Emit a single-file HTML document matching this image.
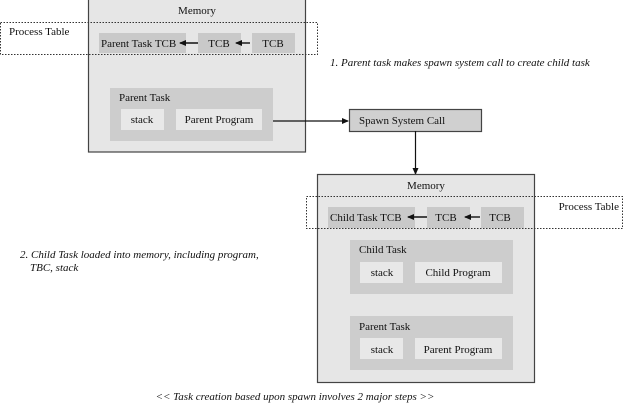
<!DOCTYPE html>
<html><head><meta charset="utf-8"><style>
html,body{margin:0;padding:0;background:#fff;width:623px;height:403px;overflow:hidden}
svg text{font-family:"Liberation Serif",serif;font-size:11px;fill:#111}
.i{font-style:italic}
</style></head><body>
<svg width="623" height="403" viewBox="0 0 623 403" xmlns="http://www.w3.org/2000/svg">
<defs><marker id="a" markerUnits="userSpaceOnUse" markerWidth="7" markerHeight="7" refX="6" refY="3.5" orient="auto"><path d="M0,0.5 L7,3.5 L0,6.5 z" fill="#111"/></marker></defs>
<rect x="88.5" y="-1" width="217" height="153" fill="#e6e6e6" stroke="#444" stroke-width="1.2"/>
<text x="197" y="14" text-anchor="middle">Memory</text>
<rect x="99" y="33" width="87" height="20" fill="#c9c9c9"/>
<rect x="198" y="33" width="43" height="20" fill="#c9c9c9"/>
<rect x="252" y="33" width="43" height="20" fill="#c9c9c9"/>
<text x="101" y="47">Parent Task TCB</text>
<text x="219" y="47" text-anchor="middle">TCB</text>
<text x="273" y="47" text-anchor="middle">TCB</text>
<line x1="250" y1="43" x2="236" y2="43" stroke="#111" stroke-width="1.4" marker-end="url(#a)"/>
<line x1="198" y1="43" x2="180" y2="43" stroke="#111" stroke-width="1.4" marker-end="url(#a)"/>
<rect x="0.5" y="22.5" width="317" height="32" fill="none" stroke="#333" stroke-dasharray="1.5,1.5"/>
<text x="9" y="35">Process Table</text>
<rect x="110" y="88" width="163" height="53" fill="#cdcdcd"/>
<text x="119" y="101">Parent Task</text>
<rect x="121" y="109" width="43" height="21" fill="#e8e8e8"/>
<text x="142" y="123" text-anchor="middle">stack</text>
<rect x="176" y="109" width="86" height="21" fill="#e8e8e8"/>
<text x="219" y="123" text-anchor="middle">Parent Program</text>
<line x1="273" y1="121" x2="348" y2="121" stroke="#111" stroke-width="1.2" marker-end="url(#a)"/>
<rect x="349.5" y="109.5" width="132" height="22" fill="#d0d0d0" stroke="#444" stroke-width="1.2"/>
<text x="359" y="124">Spawn System Call</text>
<line x1="415.5" y1="131" x2="415.5" y2="174" stroke="#111" stroke-width="1.2" marker-end="url(#a)"/>
<text x="330" y="66" class="i">1. Parent task makes spawn system call to create child task</text>
<rect x="317.5" y="174.5" width="217" height="208" fill="#e6e6e6" stroke="#444" stroke-width="1.2"/>
<text x="426" y="189" text-anchor="middle">Memory</text>
<rect x="328" y="207" width="87" height="21" fill="#c9c9c9"/>
<rect x="427" y="207" width="43" height="21" fill="#c9c9c9"/>
<rect x="481" y="207" width="43" height="21" fill="#c9c9c9"/>
<text x="330" y="221">Child Task TCB</text>
<text x="446" y="221" text-anchor="middle">TCB</text>
<text x="500" y="221" text-anchor="middle">TCB</text>
<line x1="480" y1="217" x2="465" y2="217" stroke="#111" stroke-width="1.4" marker-end="url(#a)"/>
<line x1="427" y1="217" x2="408" y2="217" stroke="#111" stroke-width="1.4" marker-end="url(#a)"/>
<rect x="306.5" y="196.5" width="316" height="32" fill="none" stroke="#333" stroke-dasharray="1.5,1.5"/>
<text x="619" y="210" text-anchor="end">Process Table</text>
<rect x="350" y="240" width="163" height="54" fill="#cdcdcd"/>
<text x="359" y="253">Child Task</text>
<rect x="360" y="262" width="43" height="21" fill="#e8e8e8"/>
<text x="382" y="276" text-anchor="middle">stack</text>
<rect x="415" y="262" width="87" height="21" fill="#e8e8e8"/>
<text x="458" y="276" text-anchor="middle">Child Program</text>
<rect x="350" y="316" width="163" height="54" fill="#cdcdcd"/>
<text x="359" y="330">Parent Task</text>
<rect x="360" y="338" width="43" height="21" fill="#e8e8e8"/>
<text x="382" y="353" text-anchor="middle">stack</text>
<rect x="415" y="338" width="87" height="21" fill="#e8e8e8"/>
<text x="458" y="353" text-anchor="middle">Parent Program</text>
<text x="20" y="258" class="i">2. Child Task loaded into memory, including program,</text>
<text x="30" y="271" class="i">TBC, stack</text>
<text x="295" y="400" class="i" text-anchor="middle">&lt;&lt; Task creation based upon spawn involves 2 major steps &gt;&gt;</text>
</svg>
</body></html>
